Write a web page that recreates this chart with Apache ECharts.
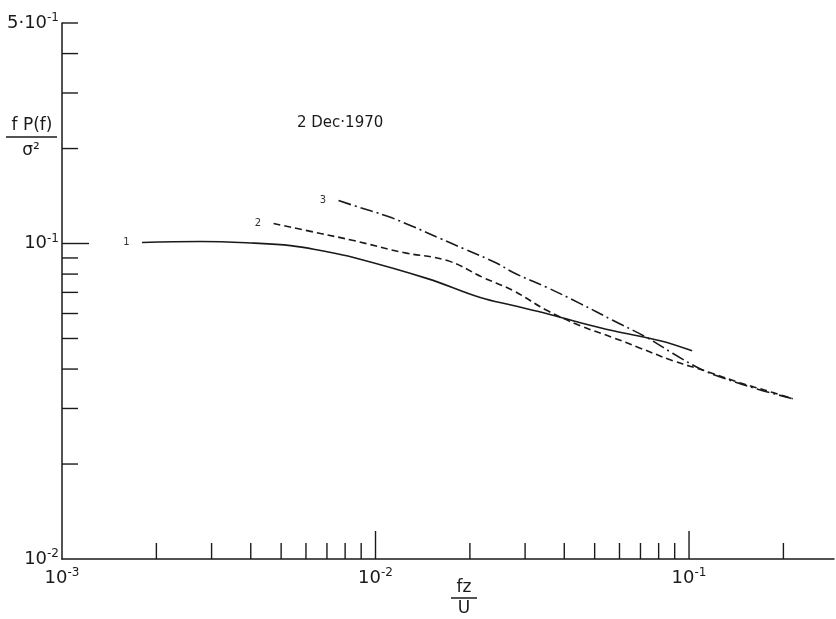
<!DOCTYPE html>
<html>
<head>
<meta charset="utf-8">
<script src="https://cdn.jsdelivr.net/npm/echarts@6/dist/echarts.min.js"></script>
<style>
  html, body { margin: 0; padding: 0; background: #fff; }
  #chart { width: 836px; height: 619px; }
</style>
</head>
<body>
<div id="chart"></div>
<script>
// curve 1 (solid)
var c1X = [0.0018, 0.00277, 0.0041, 0.00536, 0.00668, 0.00851, 0.01465, 0.02158, 0.0275, 0.0353, 0.0450, 0.0573, 0.0809, 0.1023];
var c1Y = [0.1007, 0.1015, 0.1003, 0.0985, 0.0950, 0.0903, 0.0774, 0.0674, 0.0636, 0.0599, 0.0561, 0.0529, 0.0492, 0.0457];
// curve 2 (dashed)
var c2X = [0.00473, 0.00668, 0.00851, 0.01227, 0.01694, 0.02206, 0.0275, 0.0353, 0.0450, 0.0573, 0.0699, 0.0889, 0.1140, 0.1452, 0.1852, 0.2143];
var c2Y = [0.1157, 0.1076, 0.1022, 0.0936, 0.0883, 0.0780, 0.0709, 0.0613, 0.0549, 0.0503, 0.0466, 0.0425, 0.0393, 0.0362, 0.0337, 0.0322];
// curve 3 (dash-dot)
var c3X = [0.00762, 0.00851, 0.01092, 0.01292, 0.0161, 0.01906, 0.02448, 0.0275, 0.0353, 0.0450, 0.0573, 0.0735, 0.0889, 0.1084, 0.1283, 0.1647, 0.2143];
var c3Y = [0.1369, 0.1320, 0.1220, 0.1141, 0.1037, 0.0964, 0.0864, 0.0809, 0.0725, 0.0645, 0.0570, 0.0503, 0.0448, 0.0401, 0.0375, 0.0346, 0.0322];

var curveNames = ['1', '2', '3'];

// tick marks
var xMinorTicks = [0.002, 0.003, 0.004, 0.005, 0.006, 0.007, 0.008, 0.009,
                   0.02, 0.03, 0.04, 0.05, 0.06, 0.07, 0.08, 0.09, 0.2];
var xMajorTicks = [0.01, 0.1];
var yMinorTicks = [0.02, 0.03, 0.04, 0.05, 0.06, 0.07, 0.08, 0.09, 0.2, 0.3, 0.4, 0.5];
var yMajorTicks = [0.1];

var xMin = 0.001, xMax = 0.29;
var yMin = 0.01, yMax = 0.5;

var FONT = 'DejaVu Sans';
var INK = '#1a1a1a';

function pairs(xs, ys, name) {
    var out = [];
    for (var i = 0; i < xs.length; i++) {
        var item = { value: [xs[i], ys[i]] };
        if (i === 0) {
            item.label = {
                show: true, position: 'left', distance: 12,
                formatter: name, fontSize: 10, color: '#333', fontFamily: FONT
            };
        }
        out.push(item);
    }
    return out;
}

function powLabel(v) {
    var e = Math.log10(v);
    var r = Math.round(e);
    if (Math.abs(e - r) < 1e-6) {
        return '{b|10}{s|' + r + '}';
    }
    if (Math.abs(v - 0.5) < 1e-6) {
        return '{b|5·10}{s|-1}';
    }
    return '';
}

var richLabel = {
    b: { fontSize: 18, fontFamily: FONT, color: INK, lineHeight: 22 },
    s: { fontSize: 12, fontFamily: FONT, color: INK, verticalAlign: 'top', lineHeight: 22, padding: [0, 0, 9, 0] }
};

function tickSeries(values, len, isX) {
    return {
        type: 'custom',
        silent: true,
        clip: false,
        data: values.map(function (v) { return [v]; }),
        encode: isX ? { x: 0 } : { y: 0 },
        renderItem: function (params, api) {
            var v = api.value(0);
            var p = isX ? api.coord([v, yMin]) : api.coord([xMin, v]);
            return {
                type: 'line',
                shape: isX ? { x1: p[0], y1: p[1], x2: p[0], y2: p[1] - len }
                           : { x1: p[0], y1: p[1], x2: p[0] + len, y2: p[1] },
                style: { stroke: INK, lineWidth: 1.4 }
            };
        }
    };
}

var chart = echarts.init(document.getElementById('chart'));

var lineBase = {
    type: 'line',
    smooth: 0.4,
    symbol: 'circle',
    symbolSize: 1,
    showSymbol: true,
    itemStyle: { color: 'rgba(0,0,0,0)' },
    emphasis: { disabled: true },
    silent: true
};

chart.setOption({
    animation: false,
    backgroundColor: '#fff',
    grid: { left: 62, right: 2, top: 23, bottom: 60 },
    xAxis: {
        type: 'log',
        logBase: 10,
        min: xMin,
        max: xMax,
        axisLine: { show: true, lineStyle: { color: INK, width: 1.5 } },
        axisTick: { show: false },
        splitLine: { show: false },
        axisLabel: {
            margin: 8,
            showMaxLabel: false,
            formatter: powLabel,
            rich: richLabel
        }
    },
    yAxis: {
        type: 'log',
        logBase: 10,
        min: yMin,
        max: yMax,
        axisLine: { show: true, lineStyle: { color: INK, width: 1.5 } },
        axisTick: { show: false },
        splitLine: { show: false },
        axisLabel: {
            margin: 3,
            showMaxLabel: true,
            formatter: powLabel,
            rich: richLabel
        }
    },
    graphic: [
        { type: 'text', left: 297, top: 116,
          style: { text: '2 Dec·1970', font: '15px ' + FONT, fill: INK } },
        // y-axis title
        { type: 'text', x: 32, y: 126,
          style: { text: 'f P(f)', font: '17px ' + FONT, fill: INK, textAlign: 'center', textVerticalAlign: 'middle' } },
        { type: 'line', shape: { x1: 6, y1: 137, x2: 57, y2: 137 }, style: { stroke: INK, lineWidth: 1.5 } },
        { type: 'text', x: 31, y: 151,
          style: { text: 'σ²', font: '17px ' + FONT, fill: INK, textAlign: 'center', textVerticalAlign: 'middle' } },
        // x-axis title
        { type: 'text', x: 464, y: 588,
          style: { text: 'fz', font: '17px ' + FONT, fill: INK, textAlign: 'center', textVerticalAlign: 'middle' } },
        { type: 'line', shape: { x1: 451, y1: 598, x2: 477, y2: 598 }, style: { stroke: INK, lineWidth: 1.5 } },
        { type: 'text', x: 464, y: 609,
          style: { text: 'U', font: '17px ' + FONT, fill: INK, textAlign: 'center', textVerticalAlign: 'middle' } }
    ],
    series: [
        echarts.util.merge({
            name: curveNames[0],
            data: pairs(c1X, c1Y, curveNames[0]),
            lineStyle: { color: INK, width: 1.6, type: 'solid' }
        }, lineBase),
        echarts.util.merge({
            name: curveNames[1],
            data: pairs(c2X, c2Y, curveNames[1]),
            lineStyle: { color: INK, width: 1.6, type: [7, 4] }
        }, lineBase),
        echarts.util.merge({
            name: curveNames[2],
            data: pairs(c3X, c3Y, curveNames[2]),
            lineStyle: { color: INK, width: 1.6, type: [13, 4, 2, 4] }
        }, lineBase),
        tickSeries(xMinorTicks, 16, true),
        tickSeries(xMajorTicks, 28, true),
        tickSeries(yMinorTicks, 16, false),
        tickSeries(yMajorTicks, 27, false)
    ]
});
</script>
</body>
</html>
